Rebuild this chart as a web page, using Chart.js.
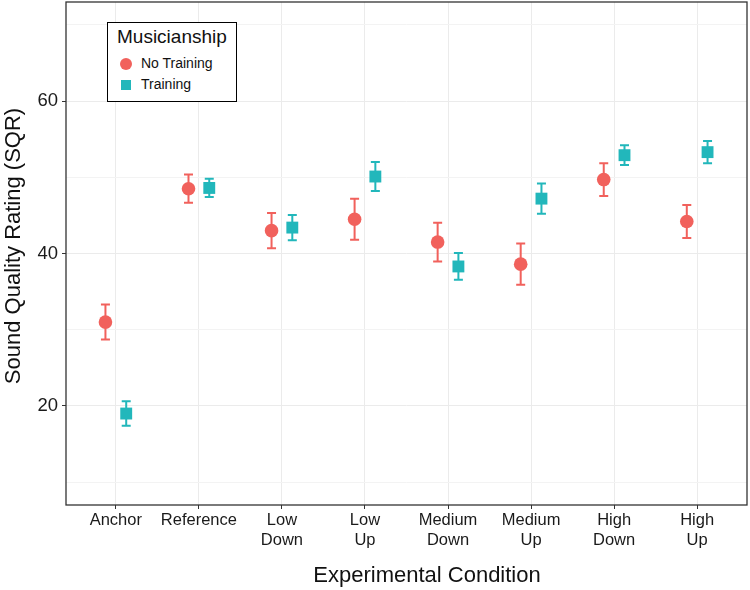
<!DOCTYPE html>
<html>
<head>
<meta charset="utf-8">
<script src="https://cdn.jsdelivr.net/npm/chart.js@4"></script>
<style>
    body { margin: 0; background: #fff; }
    #wrap { position: relative; width: 750px; height: 590px; }
    #legend {
        position: absolute; left: 107px; top: 22px; width: 128px; height: 78px;
        border: 1px solid #000; background: #fff;
        font-family: "Liberation Sans", Arial, sans-serif; color: #111;
    }
    #legend .title { position: absolute; left: 9px; top: 3px; font-size: 19px; }
    #legend .item { position: absolute; left: 33px; font-size: 14px; }
    #legend .sym { position: absolute; }
</style>
</head>
<body>
<div id="wrap">
    <canvas id="chart"></canvas>
    <div id="legend"></div>
</div>
<script>
// Data
const categories = ['Anchor', 'Reference', ['Low', 'Down'], ['Low', 'Up'], ['Medium', 'Down'], ['Medium', 'Up'], ['High', 'Down'], ['High', 'Up']];
const noTrainingMean = [31.0, 48.5, 43.0, 44.5, 41.5, 38.6, 49.7, 44.2];
const noTrainingErr = [2.3, 1.85, 2.3, 2.7, 2.55, 2.7, 2.15, 2.15];
const trainingMean = [19.0, 48.6, 43.4, 50.1, 38.3, 47.2, 52.9, 53.3];
const trainingErr = [1.6, 1.2, 1.65, 1.9, 1.75, 2.0, 1.3, 1.45];
const yTicks = [10, 20, 30, 40, 50, 60, 70];
const yLabelled = [20, 40, 60];

const RED = '#F1615C';
const TEAL = '#22B7BB';
const FONT = '"Liberation Sans", Arial, sans-serif';
const dodge = 0.125;

function points(means, shift) {
    return means.map((m, i) => ({ x: i + shift, y: m }));
}

// Error bars drawn with the chart's own scales, under the points
const errorBars = {
    id: 'errorBars',
    beforeDatasetsDraw(chart) {
        const { ctx, scales: { y } } = chart;
        chart.data.datasets.forEach((ds, di) => {
            const meta = chart.getDatasetMeta(di);
            ctx.save();
            ctx.strokeStyle = ds.borderColor;
            ctx.lineWidth = 2;
            meta.data.forEach((pt, i) => {
                const v = ds.data[i].y, e = ds.errors[i];
                const top = y.getPixelForValue(v + e);
                const bot = y.getPixelForValue(v - e);
                const cap = 4.5;
                ctx.beginPath();
                ctx.moveTo(pt.x, top); ctx.lineTo(pt.x, bot);
                ctx.moveTo(pt.x - cap, top); ctx.lineTo(pt.x + cap, top);
                ctx.moveTo(pt.x - cap, bot); ctx.lineTo(pt.x + cap, bot);
                ctx.stroke();
            });
            ctx.restore();
        });
    }
};

// Panel border and axis titles
const frame = {
    id: 'frame',
    afterDraw(chart) {
        const { ctx, chartArea: a } = chart;
        ctx.save();
        ctx.strokeStyle = '#333';
        ctx.lineWidth = 1.3;
        ctx.strokeRect(a.left, a.top, a.right - a.left, a.bottom - a.top);

        ctx.fillStyle = '#111';
        ctx.font = '22px ' + FONT;
        ctx.textAlign = 'center';
        ctx.textBaseline = 'middle';
        ctx.fillText('Experimental Condition', 427, 576);

        ctx.translate(14, 246);
        ctx.rotate(-Math.PI / 2);
        ctx.fillText('Sound Quality Rating (SQR)', 0, 0);
        ctx.restore();
    }
};

new Chart(document.getElementById('chart'), {
    type: 'scatter',
    data: {
        datasets: [
            {
                label: 'No Training',
                data: points(noTrainingMean, -dodge),
                errors: noTrainingErr,
                pointStyle: 'circle',
                pointRadius: 6.8,
                backgroundColor: RED,
                borderColor: RED,
                borderWidth: 0
            },
            {
                label: 'Training',
                data: points(trainingMean, dodge),
                errors: trainingErr,
                pointStyle: 'rect',
                pointRadius: 8.4,
                backgroundColor: TEAL,
                borderColor: TEAL,
                borderWidth: 0
            }
        ]
    },
    options: {
        responsive: true,
        maintainAspectRatio: false,
        animation: false,
        layout: { autoPadding: false, padding: { top: 2, right: 3, bottom: 0, left: 0 } },
        plugins: { legend: { display: false }, tooltip: { enabled: false } },
        scales: {
            x: {
                type: 'linear',
                min: -0.6,
                max: 7.6,
                afterBuildTicks: axis => { axis.ticks = categories.map((c, i) => ({ value: i })); },
                afterFit: axis => {
                    axis.height = 85;
                    axis.paddingLeft = 0;
                    axis.paddingRight = 0;
                },
                ticks: {
                    callback: v => categories[v],
                    font: { family: FONT, size: 16.5, lineHeight: 1.2 },
                    color: '#1a1a1a',
                    padding: 2,
                    maxRotation: 0,
                    autoSkip: false
                },
                grid: { color: '#ebebeb', lineWidth: 1, tickLength: 4, tickColor: '#333' },
                border: { display: false }
            },
            y: {
                type: 'linear',
                min: 7,
                max: 73,
                afterBuildTicks: axis => { axis.ticks = yTicks.map(v => ({ value: v })); },
                afterFit: axis => {
                    axis.width = 66;
                    axis.paddingTop = 0;
                    axis.paddingBottom = 0;
                },
                ticks: {
                    callback: v => yLabelled.includes(v) ? v : '',
                    font: { family: FONT, size: 18.5 },
                    color: '#1a1a1a',
                    padding: 4
                },
                grid: {
                    color: c => yLabelled.includes(c.tick.value) ? '#ebebeb' : '#f3f3f3',
                    lineWidth: 1,
                    tickLength: 4,
                    tickColor: c => yLabelled.includes(c.tick.value) ? '#333' : 'rgba(0,0,0,0)'
                },
                border: { display: false }
            }
        }
    },
    plugins: [errorBars, frame]
});

// Legend box inside the panel
document.getElementById('legend').innerHTML = `
    <span class="title">Musicianship</span>
    <span class="sym" style="left:12px;top:35px;width:12px;height:12px;border-radius:50%;background:${RED}"></span>
    <span class="item" style="top:32px">No Training</span>
    <span class="sym" style="left:13px;top:57px;width:10px;height:10px;background:${TEAL}"></span>
    <span class="item" style="top:53px">Training</span>
`;
</script>
</body>
</html>
